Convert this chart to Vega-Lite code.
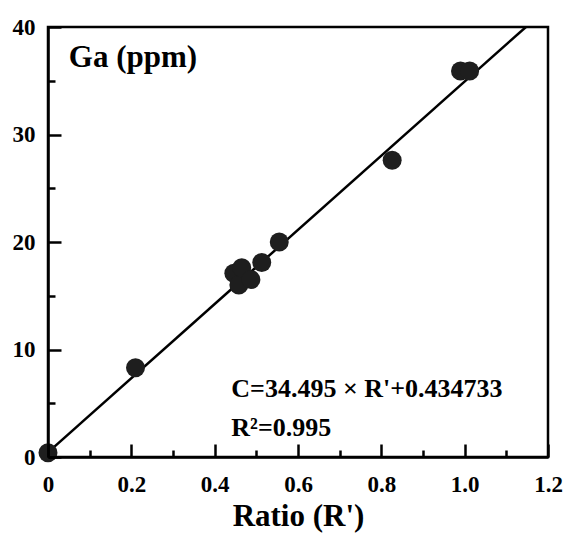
{
  "$schema": "https://vega.github.io/schema/vega-lite/v6.json",
  "width": 500,
  "height": 430,
  "autosize": {"type": "none"},
  "padding": {"left": 48, "top": 27, "right": 19, "bottom": 77},
  "background": "white",
  "config": {
    "view": {"stroke": "black", "strokeWidth": 2.5},
    "font": "Liberation Serif"
  },
  "datasets": {
    "points": [
      {"ratio": 0.0, "ga": 0.4},
      {"ratio": 0.21, "ga": 8.3},
      {"ratio": 0.446, "ga": 17.1},
      {"ratio": 0.458, "ga": 16.0},
      {"ratio": 0.465, "ga": 17.6},
      {"ratio": 0.487, "ga": 16.5},
      {"ratio": 0.513, "ga": 18.1},
      {"ratio": 0.555, "ga": 20.0},
      {"ratio": 0.826, "ga": 27.6},
      {"ratio": 0.99, "ga": 35.9},
      {"ratio": 1.012, "ga": 35.9}
    ],
    "fit": [
      {"ratio": 0.0, "ga": 0.43},
      {"ratio": 1.147, "ga": 40.0}
    ],
    "labels": [
      {"ratio": 0.05, "ga": 36.3, "text": "Ga (ppm)", "size": 31},
      {"ratio": 0.44, "ga": 5.6, "text": "C=34.495 × R'+0.434733", "size": 26},
      {"ratio": 0.44, "ga": 1.95, "text": "R²=0.995", "size": 26}
    ]
  },
  "layer": [
    {
      "data": {"name": "fit"},
      "mark": {"type": "line", "color": "black", "strokeWidth": 2.5, "clip": true},
      "encoding": {
        "x": {
          "field": "ratio", "type": "quantitative",
          "scale": {"domain": [0, 1.2], "nice": false, "zero": false},
          "axis": {
            "orient": "bottom",
            "zindex": 1,
            "title": "Ratio (R')",
            "titleFont": "Liberation Serif", "titleFontSize": 31, "titleFontWeight": "bold", "titleColor": "black",
            "titleBaseline": "alphabetic", "titleY": 68,
            "values": [0, 0.1, 0.2, 0.3, 0.4, 0.5, 0.6, 0.7, 0.8, 0.9, 1.0, 1.1, 1.2],
            "labelExpr": "datum.value == 0 ? '0' : (round(datum.value * 10) % 2 == 0 ? format(datum.value, '.1f') : '')",
            "labelFont": "Liberation Serif", "labelFontSize": 23, "labelFontWeight": "bold", "labelColor": "black",
            "labelPadding": 29, "labelFlush": false, "labelOverlap": false,
            "grid": false,
            "domainColor": "black", "domainWidth": 2.5,
            "tickColor": "black", "tickWidth": 2.5,
            "tickSize": {"condition": {"test": "round(datum.value * 10) % 2 == 0", "value": -13}, "value": -7}
          }
        },
        "y": {
          "field": "ga", "type": "quantitative",
          "scale": {"domain": [0, 40], "nice": false},
          "axis": {
            "orient": "left",
            "zindex": 1,
            "title": null,
            "values": [0, 5, 10, 15, 20, 25, 30, 35, 40],
            "labelExpr": "datum.value % 10 == 0 ? datum.label : ''",
            "labelFont": "Liberation Serif", "labelFontSize": 23, "labelFontWeight": "bold", "labelColor": "black",
            "labelPadding": 26, "labelFlush": false, "labelOverlap": false,
            "grid": false,
            "domainColor": "black", "domainWidth": 2.5,
            "tickColor": "black", "tickWidth": 2.5,
            "tickSize": {"condition": {"test": "datum.value % 10 == 0", "value": -13}, "value": -7}
          }
        }
      }
    },
    {
      "data": {"name": "points"},
      "mark": {"type": "point", "shape": "circle", "filled": true, "color": "#1e1e1e", "size": 360, "opacity": 1},
      "encoding": {
        "x": {"field": "ratio", "type": "quantitative"},
        "y": {"field": "ga", "type": "quantitative"}
      }
    },
    {
      "data": {"name": "labels"},
      "mark": {"type": "text", "align": "left", "baseline": "alphabetic", "font": "Liberation Serif", "fontWeight": "bold", "color": "black"},
      "encoding": {
        "x": {"field": "ratio", "type": "quantitative"},
        "y": {"field": "ga", "type": "quantitative"},
        "text": {"field": "text"},
        "size": {"field": "size", "type": "quantitative", "scale": null, "legend": null}
      }
    }
  ]
}
